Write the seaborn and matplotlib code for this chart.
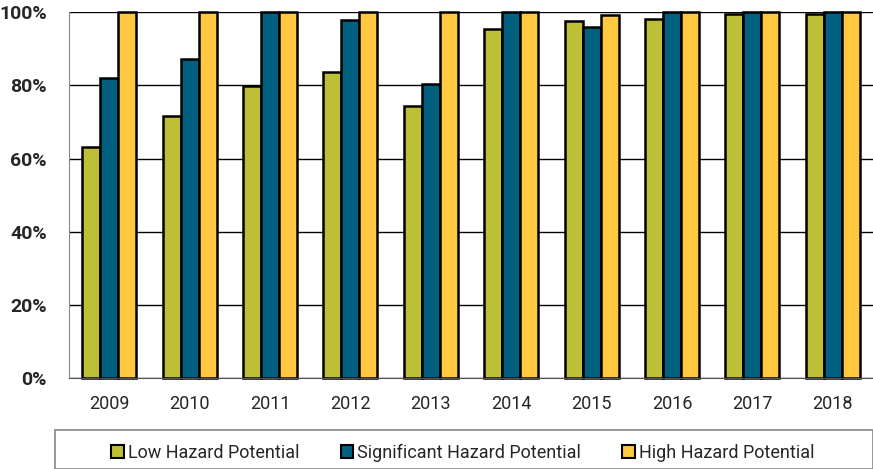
import seaborn as sns
import pandas as pd
import numpy as np
import matplotlib.pyplot as plt
from matplotlib.ticker import FixedLocator

years = ['2009', '2010', '2011', '2012', '2013', '2014', '2015', '2016', '2017', '2018']
low = [63.1, 71.7, 79.8, 83.6, 74.3, 95.4, 97.5, 98.1, 99.6, 99.5]
significant = [82.0, 87.2, 100, 97.8, 80.3, 100, 95.9, 100, 100, 100]
high = [100, 100, 100, 100, 100, 100, 99.2, 100, 100, 100]

series = ['Low Hazard Potential', 'Significant Hazard Potential', 'High Hazard Potential']
colors = ['#BDBF36', '#00607F', '#FFC840']
yticks = [0, 20, 40, 60, 80, 100]

df = pd.DataFrame({'Year': years * 3,
                   'Value': low + significant + high,
                   'Series': np.repeat(series, len(years))})

sns.set_style('white')
plt.rcParams['font.family'] = ['Roboto', 'DejaVu Sans']

fig = plt.figure(figsize=(8.73, 4.69), dpi=100)
ax = fig.add_axes([0.079, 0.194, 0.921, 0.78])

sns.barplot(data=df, x='Year', y='Value', hue='Series', palette=colors, saturation=1,
            width=0.67, edgecolor='black', linewidth=1.8, ax=ax, legend=False)
for p in ax.patches:
    p.set_clip_on(False)

ax.set_ylim(0, 100)
ax.set_xlim(-0.5, 9.5)
ax.set_yticks(yticks)
ax.set_yticklabels([f'{v}%' for v in yticks])
ax.grid(axis='y', color='black', linewidth=1)
ax.set_axisbelow(True)
ax.set_xlabel('')
ax.set_ylabel('')

ax.tick_params(axis='y', labelsize=14, length=0, pad=16)
ax.tick_params(axis='x', which='major', labelsize=13, length=0, pad=12)
ax.xaxis.set_minor_locator(FixedLocator(np.arange(-0.5, 10, 1)))
ax.tick_params(axis='x', which='minor', length=6, width=1, color='#555555', direction='out')
for lbl in ax.get_yticklabels():
    lbl.set_fontweight('bold')

for s in ['top', 'right']:
    ax.spines[s].set_visible(False)
ax.spines['left'].set_color('#888888')
ax.spines['bottom'].set_color('#555555')

# legend box
box = plt.Rectangle((0.063, 0.0), 0.937, 0.083, transform=fig.transFigure,
                    facecolor='white', edgecolor='#888888', linewidth=1.2)
fig.patches.append(box)

handles = [plt.Rectangle((0, 0), 1, 1, facecolor=c, edgecolor='black', linewidth=1.5) for c in colors]
fig.legend(handles, series, loc='center', bbox_to_anchor=(0.53, 0.034),
           ncol=3, frameon=False, fontsize=13,
           handlelength=0.7, handleheight=0.7, handletextpad=0.2,
           borderaxespad=0, columnspacing=2.3)

fig.savefig('out.png', dpi=100)
